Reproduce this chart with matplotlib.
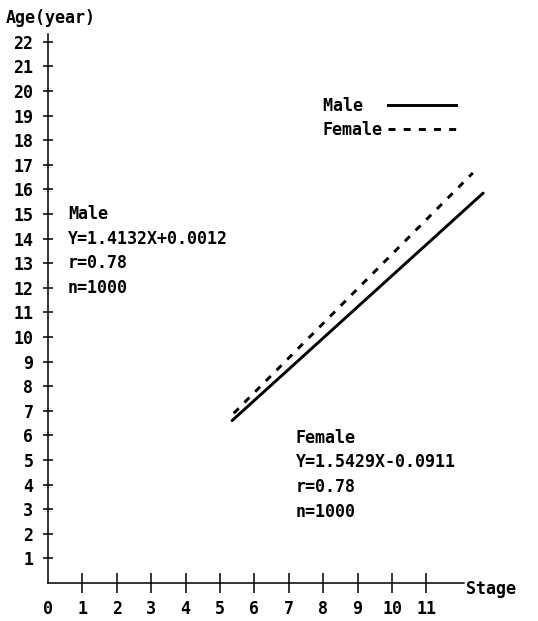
import matplotlib
matplotlib.use("Agg")
import matplotlib.pyplot as plt
from matplotlib.lines import Line2D

# values
stages = list(range(0, 12))
ages = list(range(1, 23))

male_x = [5.35, 12.65]
male_y = [6.6, 15.85]
female_x = [5.4, 12.35]
female_y = [6.9, 16.67]

male_text = ["Male", "Y=1.4132X+0.0012", "r=0.78", "n=1000"]
female_text = ["Female", "Y=1.5429X-0.0911", "r=0.78", "n=1000"]
legend_labels = ["Male  ", "Female"]  # padded, mono font keeps them left aligned

plt.rcParams['font.family'] = ['DejaVu Sans Mono']
plt.rcParams['font.weight'] = 'bold'
plt.rcParams['font.size'] = 12

W, H = 538, 621
fig = plt.figure(figsize=(W / 100, H / 100), dpi=100)
# place axes so 0,0 sits at (48, 583) px; 34.4 px per stage, 24.6 px per year
xmax, ymax = 13.5, 23.4
ax = fig.add_axes([48 / W, 38 / H, xmax * 34.4 / W, ymax * 24.6 / H])
ax.set_xlim(0, xmax)
ax.set_ylim(0, ymax)

dash = (0, (2.4, 2.8))
ax.plot(male_x, male_y, color='black', linewidth=2.1, solid_capstyle='round')
ax.plot(female_x, female_y, color='black', linewidth=2.1, linestyle=dash)

# axes styled like the hand drawn original
for s in ['top', 'right']:
    ax.spines[s].set_visible(False)
ax.spines['left'].set_bounds(0, 22.3)
ax.spines['bottom'].set_bounds(0, 12.1)
ax.spines['left'].set_linewidth(1.1)
ax.spines['bottom'].set_linewidth(1.1)

ax.set_xticks(stages)
ax.set_yticks(ages)
ax.tick_params(axis='x', direction='inout', length=14, width=1.1, pad=5, labelsize=12)
ax.tick_params(axis='y', direction='inout', length=7, width=1.1, pad=7, labelsize=12)
# no tick mark at the origin
ax.xaxis.get_major_ticks()[0].tick1line.set_visible(False)

ax.text(12.15, -0.25, "Stage", ha='left', va='center', fontsize=12, fontweight='bold')
fig.text(6 / W, 1 - 18 / H, "Age(year)", ha='left', va='center', fontsize=12, fontweight='bold')

# regression notes
for k, line in enumerate(male_text):
    ax.text(0.58, 15 - k, line, ha='left', va='center', fontsize=12, fontweight='bold')
for k, line in enumerate(female_text):
    ax.text(7.2, 5.9 - k, line, ha='left', va='center', fontsize=12, fontweight='bold')

handles = [Line2D([], [], color='black', linewidth=2.1),
           Line2D([], [], color='black', linewidth=2.1, linestyle=dash)]
ax.legend(handles, legend_labels, loc='upper left', bbox_to_anchor=(308 / W, 1 - 82 / H),
          bbox_transform=fig.transFigure, frameon=False, markerfirst=False,
          handlelength=4.1, handletextpad=0.3, labelspacing=0.35, fontsize=12)

fig.savefig('out.png', dpi=100)
